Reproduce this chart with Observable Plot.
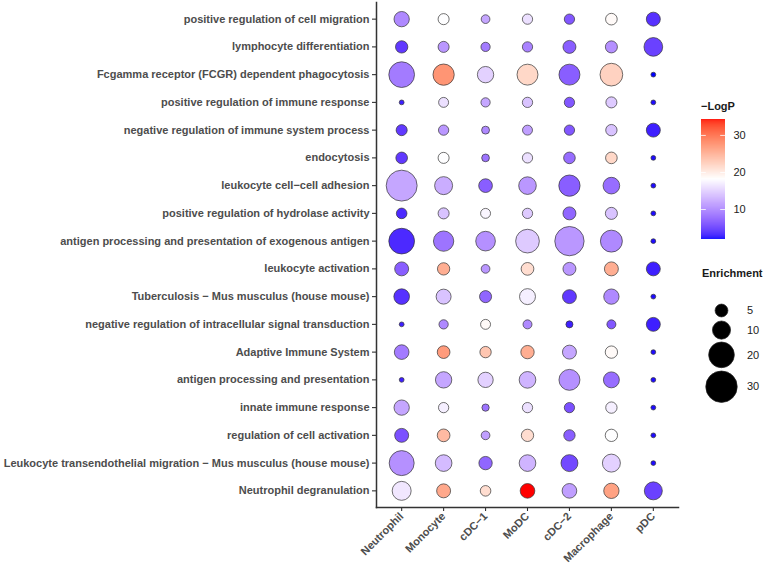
<!DOCTYPE html>
<html>
<head>
<meta charset="utf-8">
<script src="https://cdn.jsdelivr.net/npm/d3@7"></script>
<script src="https://cdn.jsdelivr.net/npm/@observablehq/plot@0.6"></script>
<style>
  body { margin: 0; background: #fff; }
  #chart { position: relative; width: 764px; height: 567px; font-family: "Liberation Sans", Arial, Helvetica, sans-serif; }
  #chart svg { position: absolute; overflow: visible; }
  .legend-title { position: absolute; font-size: 11px; font-weight: bold; color: #1a1a1a; line-height: 13px; }
  #size-legend { position: absolute; left: 705px; top: 301px; }
  #size-legend .key { display: flex; align-items: center; }
  #size-legend .key svg { position: static; }
  #size-legend .key span { margin-left: 10px; font-size: 11px; color: #222; }
</style>
</head>
<body>
<div id="chart"></div>
<script>
// GO / pathway terms, top to bottom
const terms = [
  "positive regulation of cell migration",
  "lymphocyte differentiation",
  "Fcgamma receptor (FCGR) dependent phagocytosis",
  "positive regulation of immune response",
  "negative regulation of immune system process",
  "endocytosis",
  "leukocyte cell\u2212cell adhesion",
  "positive regulation of hydrolase activity",
  "antigen processing and presentation of exogenous antigen",
  "leukocyte activation",
  "Tuberculosis \u2212 Mus musculus (house mouse)",
  "negative regulation of intracellular signal transduction",
  "Adaptive Immune System",
  "antigen processing and presentation",
  "innate immune response",
  "regulation of cell activation",
  "Leukocyte transendothelial migration \u2212 Mus musculus (house mouse)",
  "Neutrophil degranulation"
];

// cell types, left to right
const cells = ["Neutrophil", "Monocyte", "cDC\u22121", "MoDC", "cDC\u22122", "Macrophage", "pDC"];

// enrichment per term (rows) and cell type (columns)
const enrichment = [
  [7.1, 3.7, 2.3, 3.2, 3.2, 4.1, 5.9],
  [4.6, 3.7, 2.6, 3.2, 5.1, 4.4, 10.6],
  [20.0, 13.7, 8.1, 13.3, 13.3, 15.6, 0.7],
  [0.7, 3.0, 2.6, 3.2, 3.2, 3.7, 0.7],
  [3.7, 3.2, 1.9, 3.0, 3.2, 3.9, 5.9],
  [4.1, 3.7, 1.8, 3.2, 4.1, 4.1, 0.7],
  [29.0, 9.8, 5.7, 9.4, 13.7, 8.4, 0.7],
  [3.4, 3.7, 3.0, 3.2, 5.1, 4.4, 0.7],
  [20.0, 12.5, 11.7, 17.0, 26.0, 14.6, 0.7],
  [5.9, 4.6, 2.3, 4.9, 5.1, 5.9, 5.9],
  [7.4, 6.8, 4.4, 7.7, 5.9, 7.1, 0.7],
  [0.7, 2.6, 3.0, 2.45, 1.5, 2.45, 5.9],
  [6.5, 4.9, 3.9, 5.4, 5.9, 4.6, 0.7],
  [0.7, 8.1, 7.1, 8.4, 13.3, 7.7, 0.7],
  [7.1, 3.2, 1.6, 3.2, 3.2, 3.9, 0.7],
  [5.9, 4.9, 2.3, 4.6, 3.9, 4.6, 0.7],
  [18.9, 8.4, 5.4, 8.4, 8.7, 9.8, 0.7],
  [10.9, 5.9, 3.4, 6.5, 6.5, 7.1, 9.8]
];

// -log10(P) per term (rows) and cell type (columns)
const logp = [
  [10.0, 18.0, 12.0, 16.0, 6.5, 18.5, 4.0],
  [4.5, 11.0, 9.0, 9.5, 7.0, 10.5, 5.0],
  [9.0, 27.0, 15.0, 21.5, 7.0, 22.0, 1.9],
  [3.0, 16.0, 12.0, 14.0, 6.5, 14.5, 2.2],
  [4.5, 11.0, 10.0, 11.5, 6.5, 14.0, 3.0],
  [4.5, 18.0, 8.5, 16.0, 8.0, 21.5, 2.2],
  [12.0, 12.5, 7.0, 11.0, 7.0, 8.0, 2.2],
  [3.5, 14.0, 17.5, 14.5, 7.5, 14.0, 2.2],
  [3.5, 8.5, 10.5, 14.5, 11.0, 10.0, 2.2],
  [7.0, 25.0, 11.0, 21.0, 11.0, 25.0, 3.0],
  [4.0, 14.0, 7.5, 17.0, 4.5, 10.0, 2.2],
  [3.0, 10.0, 18.5, 10.0, 3.0, 6.5, 3.0],
  [9.0, 26.5, 23.0, 25.0, 12.0, 18.5, 2.2],
  [3.0, 12.0, 15.0, 13.0, 10.5, 8.0, 2.2],
  [12.0, 17.0, 8.5, 16.0, 6.0, 17.0, 2.2],
  [6.0, 24.0, 11.5, 21.0, 7.0, 18.0, 2.2],
  [10.5, 13.5, 7.5, 13.0, 5.5, 15.0, 2.2],
  [16.5, 25.5, 21.0, 34.3, 11.5, 26.0, 5.0]
];

// legend entries
const colorTicks = [10, 20, 30];
const sizeBreaks = [5, 10, 20, 30];

const rows = terms.flatMap((term, i) =>
  cells.map((cell, j) => ({term, cell, enrichment: enrichment[i][j], logp: logp[i][j]}))
);

const [lo, hi] = d3.extent(rows, d => d.logp);
const colorOpts = {type: "linear", domain: [lo, (lo + hi) / 2, hi], range: ["blue", "white", "red"], interpolate: "lab"};
const rOpts = {type: "sqrt", domain: [0, 35], range: [0, 17]};
const font = '"Liberation Sans", Arial, Helvetica, sans-serif';

const chart = document.getElementById("chart");

// main dot plot
const main = Plot.plot({
  width: 690,
  height: 567,
  marginLeft: 376,
  marginRight: 12,
  marginTop: 2,
  marginBottom: 60,
  style: {fontFamily: font, fontSize: "11px", background: "transparent", color: "#4d4d4d"},
  x: {type: "point", domain: cells, padding: 0.6, round: false, label: null},
  y: {type: "point", domain: terms, padding: 0.6, round: false, label: null},
  r: rOpts,
  color: colorOpts,
  marks: [
    Plot.axisY({tickSize: 4, tickPadding: 3, fontWeight: "bold", fill: "#4d4d4d", stroke: "#333", strokeWidth: 1.1, label: null}),
    Plot.axisX({tickSize: 4, tickPadding: 3, tickRotate: -45, fontWeight: "bold", fill: "#4d4d4d", stroke: "#333", strokeWidth: 1.1, label: null}),
    Plot.dot(rows, {x: "cell", y: "term", r: "enrichment", fill: "logp", stroke: "#333", strokeWidth: 0.7}),
    Plot.frame({anchor: "left", stroke: "#333", strokeWidth: 1.5}),
    Plot.frame({anchor: "bottom", stroke: "#333", strokeWidth: 1.5})
  ]
});
main.style.left = "0px";
main.style.top = "0px";
chart.appendChild(main);

// -LogP colour bar
const t1 = document.createElement("div");
t1.className = "legend-title";
t1.style.left = "701px";
t1.style.top = "100px";
t1.textContent = "\u2212LogP";
chart.appendChild(t1);

const steps = 240;
const ramp = d3.range(steps).map(i => lo + (hi - lo) * i / steps);
const dv = (hi - lo) / steps;
const bar = Plot.plot({
  width: 74,
  height: 180,
  marginLeft: 11,
  marginRight: 39,
  marginTop: 39,
  marginBottom: 21,
  style: {fontFamily: font, fontSize: "11px", background: "transparent", color: "#222"},
  x: {domain: [0, 1], axis: null},
  y: {domain: [lo, hi], axis: null},
  color: colorOpts,
  marks: [
    Plot.rect(ramp, {x1: 0, x2: 1, y1: d => d, y2: d => Math.min(hi, d + dv * 1.6), fill: d => d, inset: 0}),
    Plot.ruleY(colorTicks, {x1: 0, x2: 0.2, stroke: "white", strokeWidth: 0.8}),
    Plot.ruleY(colorTicks, {x1: 0.8, x2: 1, stroke: "white", strokeWidth: 0.8}),
    Plot.axisY(colorTicks, {anchor: "right", tickSize: 0, tickPadding: 8, label: null, fill: "#222"})
  ]
});
bar.style.left = "690px";
bar.style.top = "80px";
chart.appendChild(bar);

// Enrichment size legend
const t2 = document.createElement("div");
t2.className = "legend-title";
t2.style.left = "702px";
t2.style.top = "267px";
t2.textContent = "Enrichment";
chart.appendChild(t2);

const sizeLegend = document.createElement("div");
sizeLegend.id = "size-legend";
for (const v of sizeBreaks) {
  const rr = d3.scaleSqrt(rOpts.domain, rOpts.range)(v);
  const h = Math.max(18, 2 * rr + 3);
  const key = document.createElement("div");
  key.className = "key";
  const dot = Plot.plot({
    width: 32,
    height: h,
    margin: 0,
    style: {background: "transparent"},
    x: {domain: [-1, 1], axis: null},
    y: {domain: [-1, 1], axis: null},
    r: rOpts,
    marks: [Plot.dot([v], {x: () => 0, y: () => 0, r: d => d, fill: "black", stroke: "#222", strokeWidth: 0.7})]
  });
  const label = document.createElement("span");
  label.textContent = String(v);
  key.appendChild(dot);
  key.appendChild(label);
  sizeLegend.appendChild(key);
}
chart.appendChild(sizeLegend);
</script>
</body>
</html>
